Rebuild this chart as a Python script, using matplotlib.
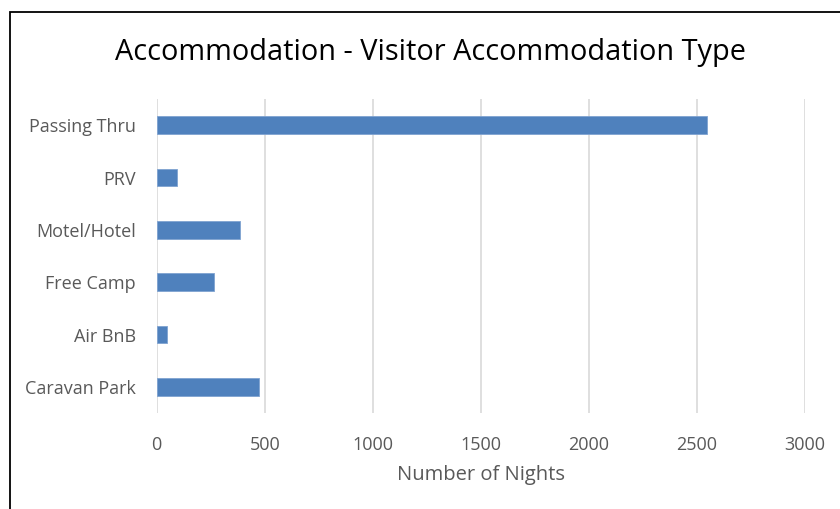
import matplotlib
matplotlib.use("Agg")
import matplotlib.pyplot as plt
from matplotlib.patches import Rectangle

# Data
categories = ["Caravan Park", "Air BnB", "Free Camp", "Motel/Hotel", "PRV", "Passing Thru"]
nights = [474, 46, 264, 386, 93, 2546]
x_ticks = [0, 500, 1000, 1500, 2000, 2500, 3000]

plt.rcParams['font.family'] = ['Open Sans', 'DejaVu Sans']

fig = plt.figure(figsize=(8.4, 5.09), dpi=100)
ax = fig.add_axes([0.1866, 0.1886, 0.9583 - 0.1866, 0.8055 - 0.1886])

ax.barh(categories, nights, height=0.34, color='#4f81bd', edgecolor='#7fa3d1', linewidth=0.6, zorder=3)

ax.set_xlim(0, 3000)
ax.set_ylim(-0.5, len(categories) - 0.5)
ax.set_xticks(x_ticks)
ax.grid(axis='x', color='#d9d9d9', linewidth=1.2, zorder=0)
ax.grid(axis='y', visible=False)
for s in ax.spines.values():
    s.set_visible(False)
ax.tick_params(axis='both', length=0, colors='#595959', labelsize=13)
ax.tick_params(axis='x', pad=16.5)
ax.tick_params(axis='y', pad=15)
ax.set_xlabel("Number of Nights", fontsize=14.5, color='#595959', labelpad=8)

fig.text(0.512, 0.897, "Accommodation - Visitor Accommodation Type", ha='center', va='center',
         fontsize=20.8, color='#000000')

# chart frame (right and bottom edges run off the picture)
fig.patches.append(Rectangle((9.5 / 840, -0.1), 1.2, 1 - 12 / 509 + 0.1, transform=fig.transFigure,
                             fill=False, edgecolor='black', linewidth=1.3))

fig.savefig("out.png", dpi=100)
